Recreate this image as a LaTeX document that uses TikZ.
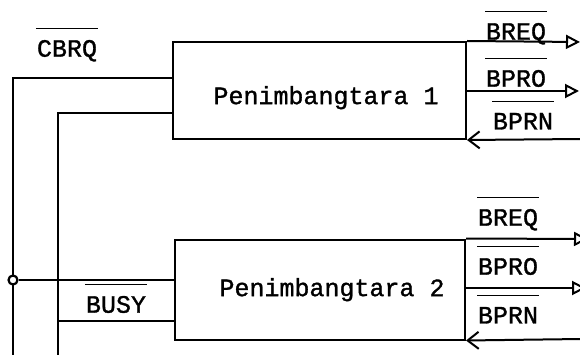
\documentclass[tikz,border=0pt]{standalone}
\usepackage{fontspec}
\setmonofont[AutoFakeBold=1.2]{Liberation Mono}
\usetikzlibrary{arrows.meta}
\newcommand\barlbl[3]{\node[txt] (#1) at (#2) {#3};
  \draw[bar] ([yshift=10.5pt]#1.north west) -- ([yshift=10.5pt]#1.north east);}
\begin{document}
\begin{tikzpicture}[x=1pt,y=-1pt,line width=2pt,
  box/.style={draw,inner sep=0pt},
  txt/.style={font=\ttfamily\bfseries\fontsize{25}{29}\selectfont,inner sep=0pt,anchor=north},
  bar/.style={line width=1.5pt},
  outarrow/.style={-{Triangle[open,length=14pt,width=14pt]}},
  inarrow/.style={-{Straight Barb[length=11pt,width=17pt]}},
  junction/.style={circle,draw,fill=white,line width=2.2pt,minimum size=9pt,inner sep=0pt}]
\useasboundingbox (0,0) rectangle (580,355);
% boxes
\node[box,minimum width=293pt,minimum height=97pt] (p1) at (319.5,90.5) {};
\node[box,minimum width=290pt,minimum height=100pt] (p2) at (320,289.5) {};
\node[txt] (t1) at (326,85) {Penimbangtara 1};
\node[txt] (t2) at (332,277) {Penimbangtara 2};
% left side coordinates
\coordinate (obot) at (13,356);
\coordinate (ibot) at (58,356);
\coordinate (ib) at (58,321);
% left connectors
\draw (p1.west |- 0,78) -| (obot);
\draw (p1.west |- 0,113) -| (ibot);
\draw (ib) -- (p2.west |- ib);
\node[junction] (j) at (13,280) {};
\draw (j) -- (p2.west |- j);
% right side end points
\coordinate (r1a) at (580,42);
\coordinate (r1b) at (579,91);
\coordinate (r1c) at (581,139);
\coordinate (r2a) at (588,239);
\coordinate (r2b) at (586,288);
\coordinate (r2c) at (581,339);
% right connectors
\draw[outarrow] (p1.north east) -- (r1a);
\draw[outarrow] (p1.east |- r1b) -- (r1b);
\draw[inarrow] (r1c) -- (p1.south east);
\draw[outarrow] (p2.north east) -- (r2a);
\draw[outarrow] (p2.east |- r2b) -- (r2b);
\draw[inarrow] (r2c) -- (p2.south east);
% labels
\barlbl{cbrq}{67,39}{CBRQ}
\barlbl{breqa}{516,22}{BREQ}
\barlbl{bproa}{516,69}{BPRO}
\barlbl{bprna}{523,112}{BPRN}
\barlbl{breqb}{508,208}{BREQ}
\barlbl{bprob}{508,257}{BPRO}
\barlbl{bprnb}{508,306}{BPRN}
\barlbl{busy}{116,295}{BUSY}
\end{tikzpicture}
\end{document}
